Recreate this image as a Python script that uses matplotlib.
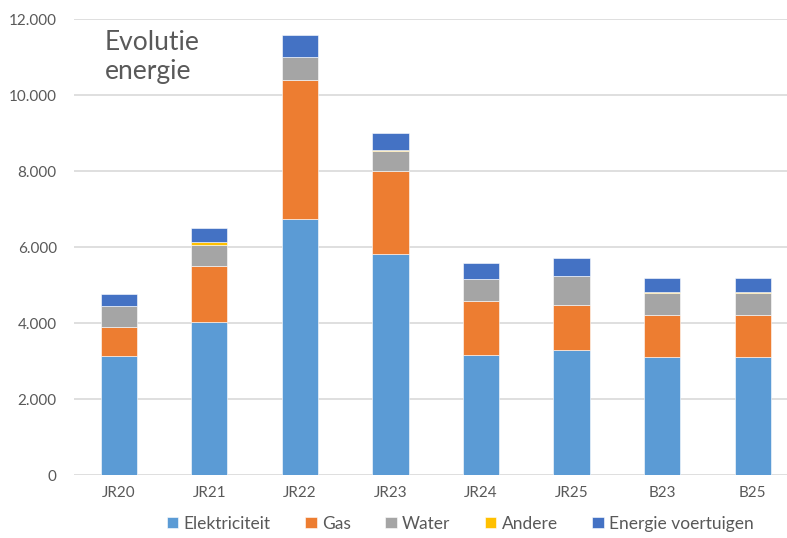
import numpy as np
import matplotlib.pyplot as plt
from matplotlib.ticker import FuncFormatter

categories = ['JR20', 'JR21', 'JR22', 'JR23', 'JR24', 'JR25', 'B23', 'B25']
elektriciteit = [3130, 4040, 6740, 5820, 3170, 3300, 3110, 3110]
gas = [770, 1470, 3660, 2170, 1420, 1170, 1090, 1090]
water = [540, 550, 610, 540, 570, 780, 590, 590]
andere = [0, 70, 0, 30, 0, 0, 20, 20]
voertuigen = [320, 370, 560, 440, 430, 470, 370, 370]

series = [
    ('Elektriciteit', elektriciteit, '#5B9BD5'),
    ('Gas', gas, '#ED7D31'),
    ('Water', water, '#A5A5A5'),
    ('Andere', andere, '#FFC000'),
    ('Energie voertuigen', voertuigen, '#4472C4'),
]

plt.rcParams['font.family'] = ['Lato', 'DejaVu Sans']
text_color = '#595959'

fig = plt.figure(figsize=(7.87, 5.38), dpi=100)
ax = fig.add_axes([0.0934, 0.117, 0.9206, 0.8476])

x = np.arange(len(categories))
bottom = np.zeros(len(categories))
for name, vals, color in series:
    vals = np.array(vals, dtype=float)
    ax.bar(x, vals, 0.4, bottom=bottom, color=color, label=name,
           edgecolor='white', linewidth=0.4, zorder=3)
    bottom += vals

ax.set_xlim(-0.5, len(categories) - 0.5)
ax.set_ylim(0, 12000)
ax.set_yticks(np.arange(0, 12001, 2000))
ax.yaxis.set_major_formatter(FuncFormatter(lambda v, p: f'{int(v):,}'.replace(',', '.')))
ax.set_xticks(x)
ax.set_xticklabels(categories)
ax.grid(axis='y', color='#D9D9D9', linewidth=1.2, zorder=0)
for s in ax.spines.values():
    s.set_visible(False)
ax.tick_params(axis='both', length=0, colors=text_color, labelsize=11)
ax.tick_params(axis='y', pad=12)
ax.tick_params(axis='x', pad=8)

fig.text(0.133, 0.945, 'Evolutie\nenergie', fontsize=19, color=text_color,
         va='top', ha='left', linespacing=1.2)

handles, labels = ax.get_legend_handles_labels()
fig.legend(handles, labels, loc='lower center', bbox_to_anchor=(0.585, -0.017),
           ncol=5, frameon=False, fontsize=12.5, labelcolor=text_color,
           handlelength=0.65, handleheight=0.65, handletextpad=0.3, columnspacing=2.0)

fig.savefig('out.png', dpi=100)
